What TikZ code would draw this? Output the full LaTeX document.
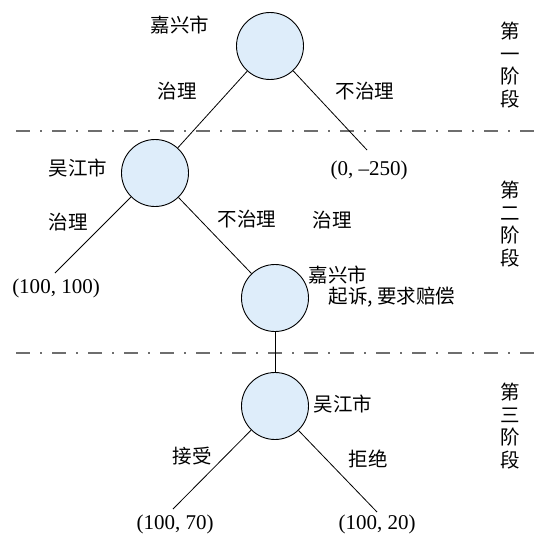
\documentclass[tikz,border=0pt]{standalone}
\usepackage{fontspec}
\setmainfont{Liberation Serif}
\newfontfamily\cjk{Noto Sans CJK SC}
\definecolor{nodefill}{RGB}{222,237,250}
\definecolor{stagegray}{RGB}{110,110,110}
\begin{document}
\begin{tikzpicture}[x=1pt,y=-1pt,
  decision/.style={circle,draw=black,line width=0.9pt,fill=nodefill,minimum size=67pt,inner sep=0pt},
  branch/.style={draw=black,line width=0.8pt},
  zh/.style={font=\cjk\fontsize{19.5}{23}\selectfont,inner sep=0pt},
  payoff/.style={font=\fontsize{21}{24}\selectfont,inner sep=0pt},
  stage/.style={font=\cjk\fontsize{19.5}{22.5}\selectfont,align=center,inner sep=0pt},
  stageline/.style={draw=stagegray,line width=1.2pt,dash pattern=on 14pt off 10pt on 2pt off 10pt}]
\useasboundingbox (0,0) rectangle (553,543);
% decision nodes
\node[decision] (c1) at (270,46) {};
\node[decision] (c2) at (155,173) {};
\node[decision] (c3) at (275,298) {};
\node[decision] (c4) at (275,406) {};
% leaf end points
\coordinate (l1) at (367,150);
\coordinate (l2) at (55,273);
\coordinate (l3) at (173,509);
\coordinate (l4) at (377,512);
% stage separators
\coordinate (s1a) at (16,131); \coordinate (s1b) at (536,131);
\coordinate (s2a) at (16,353); \coordinate (s2b) at (536,353);
\draw[stageline] (s1a) -- (s1b);
\draw[stageline] (s2a) -- (s2b);
% branches
\draw[branch] (c1) -- (c2);
\draw[branch] (c1) -- (l1);
\draw[branch] (c2) -- (l2);
\draw[branch] (c2) -- (c3);
\draw[branch] (c3) -- (c4);
\draw[branch] (c4) -- (l3);
\draw[branch] (c4) -- (l4);
% labels
\node[zh] (t1) at (180,25) {嘉兴市};
\node[zh] (t2) at (177,91) {治理};
\node[zh] (t3) at (365,91) {不治理};
\node[zh] (t4) at (78,168) {吴江市};
\node[zh] (t5) at (68,222) {治理};
\node[zh] (t6) at (247,219) {不治理};
\node[zh] (t7) at (332,220) {治理};
\node[zh] (t8) at (338,275) {嘉兴市};
\node[zh] (t9) at (392,297) {起诉, 要求赔偿};
\node[zh] (t10) at (343,404) {吴江市};
\node[zh] (t11) at (192,456) {接受};
\node[zh] (t12) at (368,459) {拒绝};
% payoffs
\node[payoff] (p1) at (369,170) {(0, –250)};
\node[payoff] (p2) at (56,288) {(100, 100)};
\node[payoff] (p3) at (175,524) {(100, 70)};
\node[payoff] (p4) at (377,524) {(100, 20)};
% stages
\node[stage] (g1) at (510,65) {第\\一\\阶\\段};
\node[stage] (g2) at (510,224) {第\\二\\阶\\段};
\node[stage] (g3) at (510,426) {第\\三\\阶\\段};
\end{tikzpicture}
\end{document}
